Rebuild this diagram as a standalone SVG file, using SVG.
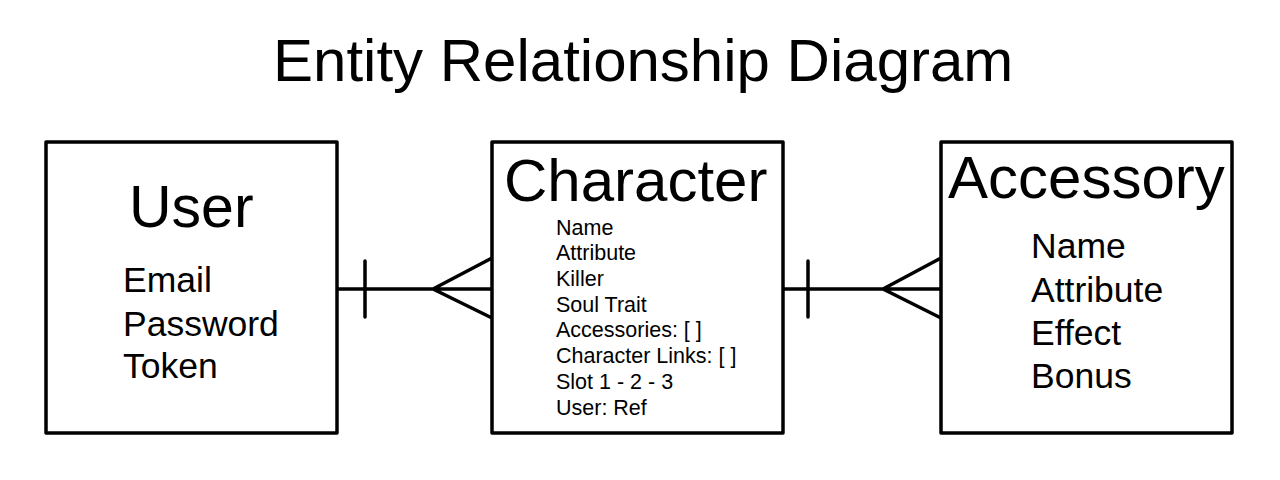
<svg xmlns="http://www.w3.org/2000/svg" width="1280" height="480" viewBox="0 0 1280 480">
<style>
text{font-family:"Liberation Sans",Arial,sans-serif;fill:#000}
.box{fill:#fff;stroke:#000;stroke-width:3.5;stroke-linejoin:round}
.ln{fill:none;stroke:#000;stroke-width:3.5;stroke-linecap:round;stroke-linejoin:round}
.big{font-size:59px}
.attr{font-size:35.5px}
.small{font-size:21.5px}
</style>
<rect width="1280" height="480" fill="#fff"/>
<text x="273" y="81" font-size="60">Entity Relationship Diagram</text>
<g id="connectors">
<path class="ln" d="M337 289H492M365 261V317M492 258L433 289L492 318"/>
<path class="ln" d="M783 289H941M808 261V317M941 258L883 289L941 318"/>
</g>
<g id="user">
<rect class="box" x="46" y="142" width="291" height="291"/>
<text class="big" x="129" y="227">User</text>
<text class="attr" x="123" y="292">Email</text>
<text class="attr" x="123" y="336">Password</text>
<text class="attr" x="123" y="378">Token</text>
</g>
<g id="character">
<rect class="box" x="492" y="142" width="291" height="291"/>
<text x="504" y="201" font-size="60">Character</text>
<text class="small" x="556" y="235">Name</text>
<text class="small" x="556" y="260">Attribute</text>
<text class="small" x="556" y="286">Killer</text>
<text class="small" x="556" y="312">Soul Trait</text>
<text class="small" x="556" y="337">Accessories: [ ]</text>
<text class="small" x="556" y="363">Character Links: [ ]</text>
<text class="small" x="556" y="389">Slot 1 - 2 - 3</text>
<text class="small" x="556" y="415">User: Ref</text>
</g>
<g id="accessory">
<rect class="box" x="941" y="142" width="291" height="291"/>
<text x="948" y="198" font-size="60">Accessory</text>
<text class="attr" x="1031" y="258">Name</text>
<text class="attr" x="1031" y="302">Attribute</text>
<text class="attr" x="1031" y="345">Effect</text>
<text class="attr" x="1031" y="388">Bonus</text>
</g>
</svg>
